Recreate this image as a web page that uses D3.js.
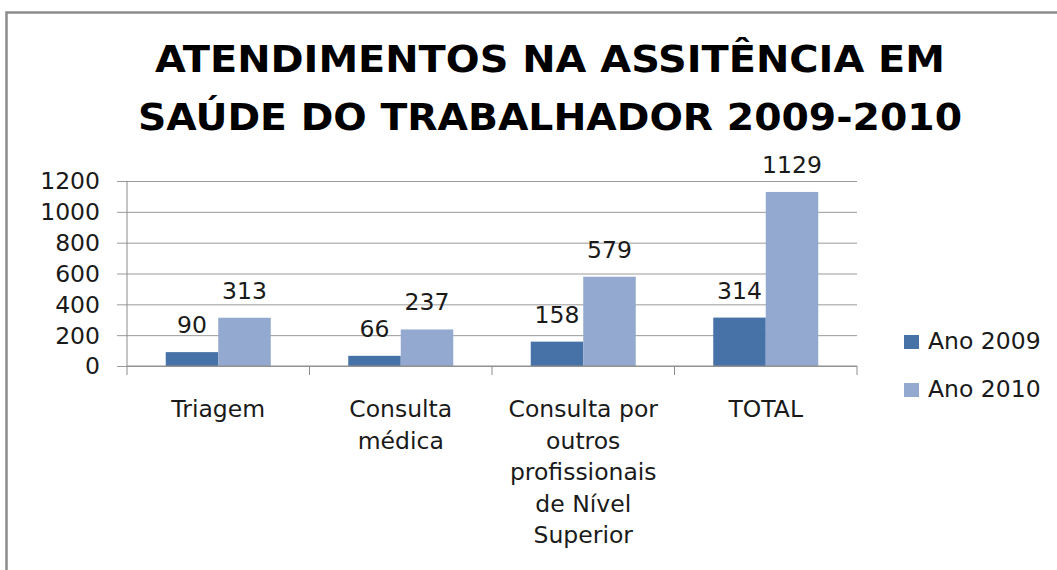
<!DOCTYPE html>
<html>
<head>
<meta charset="utf-8">
<script src="https://cdn.jsdelivr.net/npm/d3@7"></script>
<style>
  html, body { margin: 0; padding: 0; background: #fff; }
  svg { display: block; }
</style>
</head>
<body>
<svg id="chart" width="1057" height="570"></svg>
<script>
// ---- data ----
const titleLines = ["ATENDIMENTOS NA ASSITÊNCIA EM", "SAÚDE DO TRABALHADOR 2009-2010"];
const categories = ["Triagem", "Consulta médica", "Consulta por outros profissionais de Nível Superior", "TOTAL"];
const seriesNames = ["Ano 2009", "Ano 2010"];
const values2009 = [90, 66, 158, 314];
const values2010 = [313, 237, 579, 1129];
const yTicks = [0, 200, 400, 600, 800, 1000, 1200];
const colors = ["#4672A8", "#93A9CF"];

const seriesValues = [values2009, values2010];
const rows = categories.map((c, i) => ({ cat: c, vals: seriesNames.map((s, j) => ({ s, v: seriesValues[j][i] })) }));

const svg = d3.select("#chart");
const labelFont = "'DejaVu Sans', Verdana, sans-serif";
const fs = 23.5;

// frame
svg.append("rect").attr("x", 6.5).attr("y", 12.5).attr("width", 1100).attr("height", 600)
  .attr("fill", "#fff").attr("stroke", "#8c8c8c").attr("stroke-width", 2.5);

// title
const titleY = [72, 130];
const titleW = [790, 824];
titleLines.forEach((t, i) => {
  svg.append("text").attr("x", 550).attr("y", titleY[i])
    .attr("text-anchor", "middle")
    .attr("font-family", "'DejaVu Sans', sans-serif").attr("font-weight", "bold")
    .attr("font-size", 38).attr("fill", "#000")
    .attr("textLength", titleW[i]).attr("lengthAdjust", "spacingAndGlyphs")
    .text(t);
});

// scales
const plotL = 127, plotR = 857, y0px = 366, yTop = 181;
const x0 = d3.scaleBand().domain(categories).range([plotL, plotR]).paddingInner(0).paddingOuter(0);
const x1 = d3.scaleBand().domain(seriesNames).range([0, x0.bandwidth()]).paddingInner(0).paddingOuter(0.738);
const y = d3.scaleLinear().domain([0, 1200]).range([y0px, yTop]);

// gridlines + y ticks
const yAxis = d3.axisLeft(y).tickValues(yTicks).tickSize(-(plotR - plotL)).tickSizeOuter(0).tickPadding(0).tickFormat("");
const gy = svg.append("g").attr("transform", `translate(${plotL},0)`).call(yAxis);
gy.select(".domain").remove();
gy.selectAll(".tick line").attr("stroke", "#9a9a9a").attr("stroke-width", 1).attr("x1", -10);

// y labels
svg.append("g").selectAll("text").data(yTicks).join("text")
  .attr("x", 100).attr("y", d => y(d)).attr("dy", "0.36em")
  .attr("text-anchor", "end").attr("font-family", labelFont).attr("font-size", fs).attr("fill", "#1a1a1a")
  .text(d => d);

// y axis line
svg.append("line").attr("x1", plotL).attr("x2", plotL).attr("y1", yTop).attr("y2", y0px)
  .attr("stroke", "#8c8c8c").attr("stroke-width", 1);

// bars
const groups = svg.append("g").selectAll("g").data(rows).join("g")
  .attr("transform", d => `translate(${x0(d.cat)},0)`);
groups.selectAll("rect").data(d => d.vals).join("rect")
  .attr("x", d => x1(d.s)).attr("width", x1.bandwidth())
  .attr("y", d => y(d.v)).attr("height", d => y(0) - y(d.v))
  .attr("fill", (d, i) => colors[i]);
groups.selectAll("text").data(d => d.vals).join("text")
  .attr("x", d => x1(d.s) + x1.bandwidth() / 2).attr("y", d => y(d.v) - 19)
  .attr("text-anchor", "middle").attr("font-family", labelFont).attr("font-size", fs).attr("fill", "#1a1a1a")
  .text(d => d.v);

// x axis
const xAxisG = svg.append("g");
xAxisG.append("line").attr("x1", plotL).attr("x2", plotR).attr("y1", y0px).attr("y2", y0px)
  .attr("stroke", "#8c8c8c").attr("stroke-width", 1);
const bounds = categories.map(c => x0(c)).concat([plotR]);
xAxisG.selectAll("line.tk").data(bounds).join("line").attr("class", "tk")
  .attr("x1", d => d).attr("x2", d => d).attr("y1", y0px).attr("y2", y0px + 9)
  .attr("stroke", "#8c8c8c").attr("stroke-width", 1);

// category labels with wrapping
const maxW = 162;
categories.forEach(c => {
  const cx = x0(c) + x0.bandwidth() / 2;
  const t = svg.append("text").attr("text-anchor", "middle")
    .attr("font-family", labelFont).attr("font-size", fs).attr("fill", "#1a1a1a");
  const words = c.split(" ");
  let lines = [], cur = [];
  const probe = svg.append("text").attr("font-family", labelFont).attr("font-size", fs);
  words.forEach(w => {
    const test = cur.concat([w]).join(" ");
    probe.text(test);
    if (cur.length && probe.node().getComputedTextLength() > maxW) {
      lines.push(cur.join(" "));
      cur = [w];
    } else cur.push(w);
  });
  lines.push(cur.join(" "));
  probe.remove();
  lines.forEach((ln, i) => {
    t.append("tspan").attr("x", cx).attr("y", 417 + i * 31.6).text(ln);
  });
});

// legend
const lg = svg.append("g");
seriesNames.forEach((s, i) => {
  const by = 349 + i * 48;
  lg.append("rect").attr("x", 904).attr("y", by - 14).attr("width", 15).attr("height", 14).attr("fill", colors[i]);
  lg.append("text").attr("x", 928).attr("y", by)
    .attr("font-family", labelFont).attr("font-size", fs).attr("fill", "#1a1a1a").text(s);
});
</script>
</body>
</html>
